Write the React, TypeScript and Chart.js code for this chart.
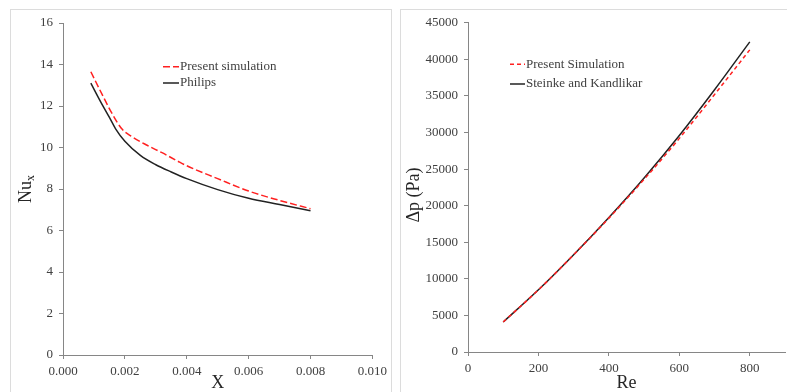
import React, { useEffect, useRef } from "react";
import { Chart, registerables } from "chart.js";

Chart.register(...registerables);

// ---- Left chart data (Nu_x vs X) ----
const simX = [0.0009, 0.0013, 0.0016, 0.0019, 0.0022, 0.0027, 0.0032, 0.0037, 0.004, 0.005, 0.006, 0.007, 0.008];
const simNu = [13.65, 12.45, 11.6, 10.9, 10.55, 10.12, 9.75, 9.35, 9.12, 8.5, 7.9, 7.45, 7.05];
const philipsX = [0.0009, 0.0012, 0.0015, 0.0017, 0.002, 0.0025, 0.003, 0.0035, 0.004, 0.005, 0.006, 0.007, 0.008];
const philipsNu = [13.1, 12.25, 11.45, 10.9, 10.3, 9.62, 9.17, 8.82, 8.5, 7.97, 7.55, 7.25, 6.95];

// ---- Right chart data (Δp vs Re) ----
const reValues = [100, 200, 300, 400, 500, 600, 700, 800];
const simDp = [4100, 8500, 13300, 18300, 23600, 29200, 35200, 41300];
const steinkeDp = [4100, 8500, 13300, 18400, 23800, 29600, 35850, 42400];

const leftLegend = ["Present simulation", "Philips"];
const rightLegend = ["Present Simulation", "Steinke and Kandlikar"];

const SERIF = '"Liberation Serif", "Times New Roman", serif';
const AXIS = "#868686";
const LABEL = "#404040";
const TITLE = "#262626";

function toPoints(xs: number[], ys: number[]) {
  return xs.map((x, i) => ({ x, y: ys[i] }));
}

function axisCommon() {
  return {
    type: "linear" as const,
    grid: { display: true, drawOnChartArea: false, drawTicks: true, tickLength: 4, color: AXIS },
    border: { display: true, color: AXIS, width: 1 },
  };
}

function makeOverlay(cfg: {
  legend: string[];
  dashes: number[][];
  colors: string[];
  lx: number;
  ly: number[];
  lineLen: number;
  textX: number;
  yTitle: (ctx: CanvasRenderingContext2D, chart: any) => void;
  xTitle: string;
  xTitleY: number;
}) {
  return {
    id: "overlay",
    afterDraw(chart: any) {
      const ctx: CanvasRenderingContext2D = chart.ctx;
      const ca = chart.chartArea;
      ctx.save();
      cfg.legend.forEach((label, i) => {
        const y = cfg.ly[i];
        ctx.beginPath();
        ctx.setLineDash(cfg.dashes[i]);
        ctx.strokeStyle = cfg.colors[i];
        ctx.lineWidth = 1.5;
        ctx.moveTo(cfg.lx, y);
        ctx.lineTo(cfg.lx + cfg.lineLen, y);
        ctx.stroke();
        ctx.setLineDash([]);
        ctx.fillStyle = LABEL;
        ctx.font = `13px ${SERIF}`;
        ctx.textAlign = "left";
        ctx.textBaseline = "middle";
        ctx.fillText(label, cfg.textX, y);
      });
      ctx.fillStyle = TITLE;
      ctx.font = `18px ${SERIF}`;
      ctx.textAlign = "center";
      ctx.textBaseline = "middle";
      ctx.fillText(cfg.xTitle, (ca.left + ca.right) / 2, cfg.xTitleY);
      cfg.yTitle(ctx, chart);
      ctx.restore();
    },
  };
}

function LeftChart() {
  const ref = useRef<HTMLCanvasElement>(null);
  useEffect(() => {
    const overlay = makeOverlay({
      legend: leftLegend,
      dashes: [[7, 3], []],
      colors: ["#ff2020", "#222222"],
      lx: 153,
      ly: [57.7, 74],
      lineLen: 16,
      textX: 170,
      xTitle: "X",
      xTitleY: 374,
      yTitle: (ctx) => {
        ctx.save();
        ctx.translate(16, 180);
        ctx.rotate(-Math.PI / 2);
        ctx.fillStyle = TITLE;
        ctx.font = `18px ${SERIF}`;
        const w1 = ctx.measureText("Nu").width;
        ctx.font = `12px ${SERIF}`;
        const w2 = ctx.measureText("x").width;
        const start = -(w1 + w2) / 2;
        ctx.textAlign = "left";
        ctx.textBaseline = "middle";
        ctx.font = `18px ${SERIF}`;
        ctx.fillText("Nu", start, 0);
        ctx.font = `12px ${SERIF}`;
        ctx.fillText("x", start + w1, 5);
        ctx.restore();
      },
    });
    const chart = new Chart(ref.current!, {
      type: "scatter",
      data: {
        datasets: [
          {
            label: leftLegend[0],
            data: toPoints(simX, simNu),
            showLine: true,
            borderColor: "#ff2020",
            borderWidth: 1.5,
            borderDash: [7, 3],
            pointRadius: 0,
            cubicInterpolationMode: "monotone",
          },
          {
            label: leftLegend[1],
            data: toPoints(philipsX, philipsNu),
            showLine: true,
            borderColor: "#222222",
            borderWidth: 1.5,
            pointRadius: 0,
            cubicInterpolationMode: "monotone",
          },
        ],
      },
      options: {
        responsive: false,
        animation: false,
        layout: { padding: { top: 14, right: 19, left: 0, bottom: 0 } },
        plugins: { legend: { display: false }, tooltip: { enabled: false } },
        scales: {
          x: {
            ...axisCommon(),
            min: 0,
            max: 0.01,
            afterFit: (s: any) => {
              s.height = 37;
            },
            ticks: {
              stepSize: 0.002,
              padding: 5,
              color: LABEL,
              font: { family: SERIF, size: 13 },
              maxRotation: 0,
              callback: (v: any) => Number(v).toFixed(3),
            },
          },
          y: {
            ...axisCommon(),
            min: 0,
            max: 16,
            afterFit: (s: any) => {
              s.width = 53;
            },
            ticks: {
              stepSize: 2,
              padding: 6,
              color: LABEL,
              font: { family: SERIF, size: 13 },
            },
          },
        },
      },
      plugins: [overlay],
    } as any);
    return () => chart.destroy();
  }, []);
  return <canvas ref={ref} width={382} height={383} style={{ position: "absolute", left: 10, top: 9 }} />;
}

function RightChart() {
  const ref = useRef<HTMLCanvasElement>(null);
  useEffect(() => {
    const overlay = makeOverlay({
      legend: rightLegend,
      dashes: [[4, 3], []],
      colors: ["#ff2020", "#222222"],
      lx: 110,
      ly: [55.3, 75],
      lineLen: 15,
      textX: 126,
      xTitle: "Re",
      xTitleY: 374,
      yTitle: (ctx) => {
        ctx.save();
        ctx.translate(14, 186);
        ctx.rotate(-Math.PI / 2);
        ctx.fillStyle = TITLE;
        ctx.font = `18px ${SERIF}`;
        ctx.textAlign = "center";
        ctx.textBaseline = "middle";
        ctx.fillText("\u0394p (Pa)", 0, 0);
        ctx.restore();
      },
    });
    const chart = new Chart(ref.current!, {
      type: "scatter",
      data: {
        datasets: [
          {
            label: rightLegend[0],
            data: toPoints(reValues, simDp),
            showLine: true,
            borderColor: "#ff2020",
            borderWidth: 1.5,
            borderDash: [4, 3],
            pointRadius: 0,
            cubicInterpolationMode: "monotone",
          },
          {
            label: rightLegend[1],
            data: toPoints(reValues, steinkeDp),
            showLine: true,
            borderColor: "#222222",
            borderWidth: 1.5,
            pointRadius: 0,
            cubicInterpolationMode: "monotone",
          },
        ],
      },
      options: {
        responsive: false,
        animation: false,
        layout: { padding: { top: 11, right: 2, left: 0, bottom: 0 } },
        plugins: { legend: { display: false }, tooltip: { enabled: false } },
        scales: {
          x: {
            ...axisCommon(),
            min: 0,
            max: 900,
            afterFit: (s: any) => {
              s.height = 40;
            },
            ticks: {
              stepSize: 200,
              includeBounds: false,
              padding: 5,
              color: LABEL,
              font: { family: SERIF, size: 13 },
              maxRotation: 0,
              callback: (v: any) => String(v),
            },
          },
          y: {
            ...axisCommon(),
            min: 0,
            max: 45000,
            afterFit: (s: any) => {
              s.width = 68;
            },
            ticks: {
              stepSize: 5000,
              padding: 6,
              color: LABEL,
              font: { family: SERIF, size: 13 },
              callback: (v: any) => String(v),
            },
          },
        },
      },
      plugins: [overlay],
    } as any);
    return () => chart.destroy();
  }, []);
  return <canvas ref={ref} width={387} height={383} style={{ position: "absolute", left: 400, top: 9 }} />;
}

export default function App() {
  return (
    <div
      style={{
        position: "absolute",
        left: 0,
        top: 0,
        width: 787,
        height: 392,
        overflow: "hidden",
        background: "#ffffff",
      }}
    >
      <div
        style={{
          position: "absolute",
          left: 10,
          top: 9,
          width: 382,
          height: 400,
          border: "1px solid #dcdcdc",
          boxSizing: "border-box",
        }}
      />
      <div
        style={{
          position: "absolute",
          left: 400,
          top: 9,
          width: 400,
          height: 400,
          border: "1px solid #dcdcdc",
          boxSizing: "border-box",
        }}
      />
      <LeftChart />
      <RightChart />
    </div>
  );
}
